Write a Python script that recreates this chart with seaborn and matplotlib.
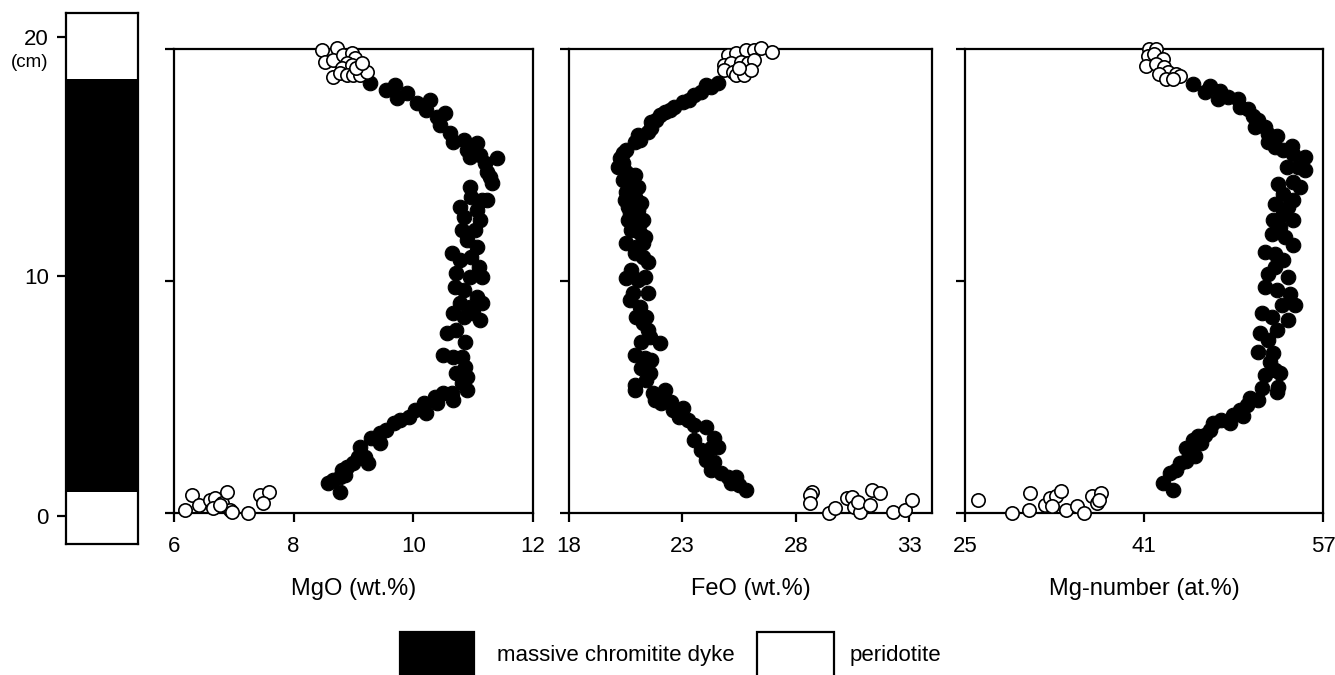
import matplotlib
matplotlib.use("Agg")
import matplotlib.pyplot as plt
from matplotlib.patches import Rectangle
import seaborn as sns

sns.set_style("ticks")
plt.rcParams["font.family"] = ["Liberation Sans", "DejaVu Sans"]
for key in ("text.color", "axes.labelcolor", "xtick.color", "ytick.color", "axes.edgecolor"):
    plt.rcParams[key] = "black"

# ---- lithological column (depth in cm) ----
unit_bottom = [-1.17, 1.0, 18.25]
unit_top = [1.0, 18.25, 21.0]
unit_rock = ["peridotite", "massive chromitite dyke", "peridotite"]
rock_colour = {"massive chromitite dyke": "black", "peridotite": "white"}
column_ticks = [0, 10, 20]

# ---- MgO (wt.%) ----
mgo_dyke = [9.28, 9.55, 9.69, 9.72, 9.89, 10.06, 10.28, 10.22, 10.39, 10.53, 10.45, 10.61,
            10.67, 10.84, 10.89, 11.06, 11.11, 10.95, 11.20, 11.39, 11.31, 11.23, 11.28, 10.95,
            10.97, 11.14, 11.23, 10.78, 10.84, 11.06, 11.11, 10.81, 10.89, 11.03, 11.06, 10.64,
            10.78, 10.97, 11.09, 10.72, 10.95, 11.14, 10.70, 10.84, 11.06, 11.14, 10.95, 10.78,
            10.67, 10.84, 11.11, 11.00, 10.56, 10.72, 10.86, 10.50, 10.67, 10.81, 10.86, 10.72,
            10.89, 10.81, 10.89, 10.64, 10.67, 10.50, 10.36, 10.39, 10.17, 10.22, 10.03, 9.92,
            9.78, 9.67, 9.55, 9.44, 9.30, 9.44, 9.11, 9.08, 9.19, 9.25, 9.00, 8.89,
            8.80, 8.86, 8.77, 8.66, 8.58, 8.77]
mgo_dyke_depth = [18.52, 18.23, 18.45, 17.87, 18.09, 17.66, 17.80, 17.37, 17.08, 17.23, 16.72, 16.36,
                  16.00, 16.08, 15.65, 15.93, 15.43, 15.36, 15.07, 15.29, 14.21, 14.71, 14.50, 14.07,
                  13.64, 13.49, 13.49, 13.20, 12.77, 13.06, 12.63, 12.20, 11.77, 12.20, 11.48, 11.19,
                  10.91, 11.05, 10.62, 10.33, 10.19, 10.19, 9.76, 9.61, 9.32, 9.04, 8.89, 9.04,
                  8.61, 8.46, 8.32, 8.61, 7.74, 7.89, 7.39, 6.81, 6.74, 6.74, 6.31, 6.02,
                  5.88, 5.59, 5.30, 5.16, 4.87, 5.16, 5.01, 4.73, 4.73, 4.30, 4.44, 4.15,
                  4.01, 3.87, 3.58, 3.43, 3.22, 3.00, 2.86, 2.43, 2.43, 2.14, 2.14, 2.00,
                  1.85, 1.64, 1.57, 1.42, 1.28, 0.92]
mgo_perid = [8.47, 8.72, 8.52, 8.66, 8.83, 8.97, 9.03, 8.89, 8.80, 8.97, 8.66, 8.77, 8.89,
             9.00, 9.11, 9.22, 9.05, 9.14,
             6.30, 6.18, 6.41, 6.60, 6.69, 6.80, 6.66, 6.88, 6.94, 7.24, 7.44, 7.58, 7.49,
             6.77, 6.97]
mgo_perid_depth = [19.96, 20.03, 19.45, 19.53, 19.74, 19.81, 19.60, 19.38, 19.17, 19.31, 18.81, 18.95,
                   18.88, 18.88, 18.88, 19.02, 19.17, 19.38,
                   0.78, 0.13, 0.34, 0.56, 0.63, 0.42, 0.20, 0.92, 0.13, -0.01, 0.78, 0.92, 0.42,
                   0.34, 0.04]

# ---- FeO (wt.%) ----
feo_dyke = [24.55, 24.26, 24.04, 23.82, 23.53, 23.31, 23.01, 22.65, 22.43, 22.21, 21.99, 21.85,
            21.63, 21.63, 21.48, 21.04, 21.11, 20.89, 20.53, 20.38, 20.24, 20.16, 20.38, 20.53,
            20.89, 20.38, 20.82, 21.04, 20.53, 20.89, 20.46, 20.60, 21.04, 21.19, 20.68, 20.60,
            21.11, 21.26, 20.75, 21.11, 21.33, 20.53, 20.97, 21.26, 20.89, 21.48, 21.26, 20.75,
            20.53, 21.04, 21.33, 21.48, 20.82, 20.68, 21.11, 20.97, 21.41, 21.26, 21.48, 21.55,
            21.19, 21.99, 20.89, 21.33, 21.63, 21.19, 21.55, 21.41, 20.89, 20.89, 21.70, 22.21,
            21.77, 22.06, 22.50, 22.58, 23.01, 22.87, 23.23, 23.53, 24.04, 24.40, 23.53, 23.82,
            24.26, 24.55, 24.04, 24.40, 24.26, 24.70, 24.99, 25.35, 25.13, 25.50, 25.79]
feo_dyke_depth = [18.52, 18.38, 18.45, 18.16, 18.02, 17.80, 17.73, 17.51, 17.37, 17.30, 17.16, 16.94,
                  16.87, 16.58, 16.44, 16.29, 16.08, 16.01, 15.65, 15.50, 15.29, 14.93, 15.07, 14.71,
                  14.57, 14.35, 14.21, 14.07, 13.85, 13.64, 13.49, 13.20, 13.06, 13.35, 12.92, 12.63,
                  12.49, 12.63, 12.20, 12.05, 11.91, 11.62, 11.48, 11.62, 11.19, 10.83, 11.05, 10.47,
                  10.11, 10.04, 10.19, 9.47, 9.47, 9.18, 8.89, 8.46, 8.46, 8.18, 7.89, 7.60,
                  7.39, 7.31, 6.81, 6.67, 6.59, 6.24, 6.02, 5.73, 5.52, 5.30, 5.16, 5.30,
                  4.87, 4.73, 4.80, 4.44, 4.51, 4.15, 4.01, 3.79, 3.72, 3.22, 3.15, 2.72,
                  2.79, 2.86, 2.28, 2.21, 1.85, 1.71, 1.57, 1.57, 1.28, 1.21, 0.99]
feo_perid = [24.99, 25.35, 25.79, 26.16, 26.45, 26.96, 24.84, 25.13, 25.57, 25.87, 26.16, 24.84,
             25.21, 25.35, 25.72, 26.01, 25.50,
             28.72, 28.64, 28.64, 29.45, 29.74, 30.25, 30.47, 30.54, 30.84, 30.76, 31.35, 31.71,
             31.27, 32.30, 32.81, 33.10]
feo_perid_depth = [19.74, 19.81, 19.96, 19.96, 20.03, 19.89, 19.31, 19.38, 19.45, 19.38, 19.53, 19.09,
                   19.02, 18.88, 18.88, 19.09, 19.17,
                   0.92, 0.78, 0.42, -0.01, 0.20, 0.63, 0.70, 0.27, 0.06, 0.49, 0.99, 0.85,
                   0.34, 0.06, 0.13, 0.56]

# ---- Mg-number (at.%) ----
mgn_dyke = [45.37, 46.87, 46.42, 47.77, 47.62, 48.52, 49.42, 49.57, 50.32, 50.77, 51.22, 50.92,
            51.82, 52.12, 52.87, 52.12, 52.72, 53.46, 54.21, 54.36, 55.41, 53.76, 54.81, 55.41,
            53.01, 54.36, 54.96, 53.46, 54.36, 52.72, 53.91, 53.46, 54.36, 52.57, 53.16, 52.42,
            53.61, 54.36, 51.82, 52.72, 53.46, 52.72, 52.12, 53.91, 51.82, 52.87, 54.06, 54.51,
            53.31, 51.52, 52.42, 53.91, 52.87, 51.37, 52.12, 51.22, 52.57, 52.27, 52.72, 51.82,
            53.16, 53.01, 52.87, 51.52, 51.22, 50.47, 50.17, 49.57, 49.87, 48.97, 48.67, 47.92,
            47.17, 46.87, 46.42, 45.82, 45.37, 46.12, 45.22, 44.78, 45.52, 44.78, 44.18, 43.88,
            43.28, 42.68, 43.58]
mgn_dyke_depth = [18.49, 18.42, 18.14, 18.21, 17.85, 17.92, 17.85, 17.49, 17.42, 17.13, 16.92, 16.63,
                  16.63, 16.34, 16.27, 15.99, 15.77, 15.63, 15.84, 15.48, 15.34, 14.91, 14.91, 14.77,
                  14.19, 14.27, 14.05, 13.76, 13.48, 13.33, 13.19, 12.90, 12.62, 12.62, 12.33, 12.04,
                  11.90, 11.54, 11.25, 11.18, 10.90, 10.61, 10.32, 10.18, 9.75, 9.61, 9.46, 8.96,
                  8.96, 8.60, 8.46, 8.32, 7.89, 7.74, 7.46, 6.95, 6.88, 6.52, 6.16, 5.95,
                  6.02, 5.45, 5.23, 5.38, 4.87, 4.95, 4.66, 4.44, 4.16, 4.23, 3.87, 4.01,
                  3.87, 3.58, 3.37, 3.30, 3.15, 3.01, 2.72, 2.80, 2.44, 2.22, 2.15, 1.86,
                  1.72, 1.29, 1.00]
mgn_perid = [41.48, 42.08, 41.33, 41.93, 42.68, 41.18, 42.08, 42.83, 43.13, 43.88, 44.18, 42.38,
             42.98, 43.58,
             26.20, 29.19, 30.69, 30.84, 32.19, 32.64, 33.09, 33.54, 32.79, 33.99, 35.04, 35.64,
             36.39, 36.84, 37.13, 36.99]
mgn_perid_depth = [20.00, 20.00, 19.71, 19.78, 19.57, 19.28, 19.35, 19.21, 19.00, 18.92, 18.85, 18.92,
                   18.71, 18.71,
                   0.57, 0.00, 0.14, 0.86, 0.36, 0.65, 0.72, 0.93, 0.29, 0.14, 0.29, 0.00,
                   0.72, 0.43, 0.86, 0.57]

panels = [
    ("MgO (wt.%)", (6, 12), [6, 8, 10, 12], mgo_dyke, mgo_dyke_depth, mgo_perid, mgo_perid_depth),
    ("FeO (wt.%)", (18, 34), [18, 23, 28, 33], feo_dyke, feo_dyke_depth, feo_perid, feo_perid_depth),
    ("Mg-number (at.%)", (25, 57), [25, 41, 57], mgn_dyke, mgn_dyke_depth, mgn_perid, mgn_perid_depth),
]

W, H = 1335, 675
fig = plt.figure(figsize=(W / 100, H / 100), dpi=100)
fig.patch.set_facecolor("white")


def px_axes(x0, y0, x1, y1):
    """Axes from pixel box (left, top, right, bottom)."""
    return fig.add_axes([x0 / W, 1 - y1 / H, (x1 - x0) / W, (y1 - y0) / H])


TICK_FS = 16
LINE_W = 1.6

# lithological column
ax0 = px_axes(66, 13, 138, 544)
for b, t, r in zip(unit_bottom, unit_top, unit_rock):
    ax0.bar(0.5, t - b, bottom=b, width=1.0, color=rock_colour[r], edgecolor="none", linewidth=0)
ax0.set_xlim(0, 1)
ax0.set_ylim(unit_bottom[0], unit_top[-1])
ax0.set_xticks([])
ax0.set_yticks(column_ticks)
ax0.set_yticklabels([str(v) for v in column_ticks])
ax0.tick_params(axis="y", direction="out", length=6.5, width=LINE_W, pad=6, labelsize=TICK_FS)
for sp in ax0.spines.values():
    sp.set_linewidth(LINE_W)
    sp.set_visible(True)
ax0.text(-0.50, 18.95, "(cm)", transform=ax0.get_yaxis_transform(), ha="center", va="center",
         fontsize=13.5)

panel_px = [(174, 533), (569, 932), (965, 1323)]
for (label, xlim, xticks, xd, yd, xp, yp), (l, r) in zip(panels, panel_px):
    ax = px_axes(l, 49, r, 513)
    sns.scatterplot(x=xd, y=yd, ax=ax, color="black", edgecolor="black", linewidth=0.8,
                    s=110, clip_on=False, zorder=4, legend=False)
    sns.scatterplot(x=xp, y=yp, ax=ax, color="white", edgecolor="black", linewidth=1.2,
                    s=92, clip_on=False, zorder=5, legend=False)
    ax.set_xlim(*xlim)
    ax.set_ylim(0, 20)
    ax.set_xticks(xticks)
    ax.set_xticklabels([str(v) for v in xticks])
    ax.set_yticks([0, 10, 20])
    ax.set_yticklabels([])
    ax.tick_params(axis="x", direction="out", length=6.5, width=LINE_W, pad=10, labelsize=TICK_FS)
    ax.tick_params(axis="y", direction="out", length=6.5, width=LINE_W)
    for sp in ax.spines.values():
        sp.set_visible(True)
        sp.set_linewidth(LINE_W)
    ax.set_xlabel(label, fontsize=17, labelpad=15)
    ax.set_ylabel("")

# legend boxes
fig.patches.append(Rectangle((400 / W, 1 - 700 / H), 74 / W, 68 / H, transform=fig.transFigure,
                             facecolor="black", edgecolor="black", linewidth=LINE_W))
fig.patches.append(Rectangle((757 / W, 1 - 700 / H), 77 / W, 68 / H, transform=fig.transFigure,
                             facecolor="white", edgecolor="black", linewidth=LINE_W))
fig.text(497 / W, 1 - 656 / H, "massive chromitite dyke", fontsize=16, ha="left", va="center")
fig.text(850 / W, 1 - 656 / H, "peridotite", fontsize=16, ha="left", va="center")

fig.savefig("out.png", dpi=100, facecolor="white")
